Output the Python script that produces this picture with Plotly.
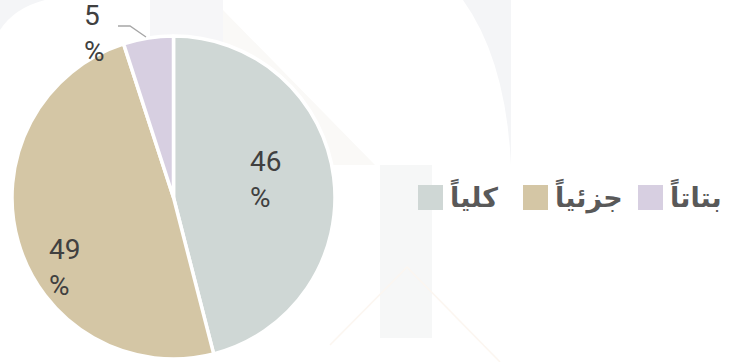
import plotly.graph_objects as go

# Survey answer shares (percent)
labels = ["كلياً", "جزئياً", "بتاتاً"]
values = [46, 49, 5]
colors = ["#cfd7d5", "#d4c6a5", "#d7cfe1"]

W, H = 734, 362


def px(x, y):
    """Pixel position -> paper coordinates (figure has no margins)."""
    return x / W, 1 - y / H


def path(points, close=True):
    parts = []
    for i, (x, y) in enumerate(points):
        u, v = px(x, y)
        parts.append(("M" if i == 0 else "L") + f"{u:.5f},{v:.5f}")
    return " ".join(parts) + (" Z" if close else "")


fig = go.Figure()

x0, y0 = px(12, 36)
x1, y1 = px(335, 359)
fig.add_trace(go.Pie(
    labels=labels,
    values=values,
    sort=False,
    direction="clockwise",
    rotation=0,
    marker=dict(colors=colors, line=dict(color="white", width=3.5)),
    textinfo="none",
    domain=dict(x=[x0, x1], y=[y1, y0]),
    showlegend=False,
    hoverinfo="label+value",
))

shapes = []
# faint watermark behind the chart
bg_grey = "#f4f5f7"
cu, cv = px(463, 0)
q1u, q1v = px(506, 60)
eu, ev = px(511, 165)
tu, tv = px(511, 0)
shapes.append(dict(type="path", xref="paper", yref="paper", layer="below",
                   path=f"M{cu},{cv} Q{q1u},{q1v} {eu},{ev} L{tu},{tv} Z",
                   fillcolor=bg_grey, line=dict(width=0)))
a0u, a0v = px(0, 30)
a1u, a1v = px(14, 8)
a2u, a2v = px(45, 0)
o0u, o0v = px(0, 0)
shapes.append(dict(type="path", xref="paper", yref="paper", layer="below",
                   path=f"M{a0u},{a0v} Q{a1u},{a1v} {a2u},{a2v} L{o0u},{o0v} Z",
                   fillcolor=bg_grey, line=dict(width=0)))
shapes.append(dict(type="path", xref="paper", yref="paper", layer="below",
                   path=path([(150, 0), (223, 0), (223, 45), (150, 45)]),
                   fillcolor="#f6f6f8", line=dict(width=0)))
shapes.append(dict(type="path", xref="paper", yref="paper", layer="below",
                   path=path([(223, 10), (375, 165), (223, 165)]),
                   fillcolor="#faf9f7", line=dict(width=0)))
shapes.append(dict(type="path", xref="paper", yref="paper", layer="below",
                   path=path([(380, 165), (432, 165), (432, 338), (380, 338)]),
                   fillcolor="#f6f7f7", line=dict(width=0)))
shapes.append(dict(type="path", xref="paper", yref="paper", layer="below",
                   path=path([(330, 345), (407, 267), (500, 362)], close=False),
                   fillcolor="rgba(0,0,0,0)", line=dict(color="#fcf6f0", width=1.5)))

# leader line for the small slice label
shapes.append(dict(type="path", xref="paper", yref="paper",
                   path=path([(118, 26), (130, 26), (146, 37)], close=False),
                   fillcolor="rgba(0,0,0,0)", line=dict(color="#a6a6a6", width=1.3)))

# slice value labels
label_font = dict(family="Roboto", size=28, color="#404040")
label_anchor = [(248, 179), (47, 267), (82, 34)]
annotations = []
for val, (lx, ly) in zip(values, label_anchor):
    u, v = px(lx, ly)
    annotations.append(dict(xref="paper", yref="paper", x=u, y=v,
                            xanchor="left", yanchor="middle", showarrow=False,
                            text=f"{val}<br>%", align="left", font=label_font))

# legend: colour square followed by its label
legend_x = [418, 523, 638]
sq = 25
yc = 197.5
for lab, col, lx in zip(labels, colors, legend_x):
    su0, sv0 = px(lx, yc - sq / 2)
    su1, sv1 = px(lx + sq, yc + sq / 2)
    shapes.append(dict(type="rect", xref="paper", yref="paper",
                       x0=su0, x1=su1, y0=sv1, y1=sv0,
                       fillcolor=col, line=dict(width=0)))
    tu_, tv_ = px(lx + sq + 5, yc - 2)
    annotations.append(dict(xref="paper", yref="paper", x=tu_, y=tv_,
                            xanchor="left", yanchor="middle", showarrow=False,
                            text=lab,
                            font=dict(family="DejaVu Sans", size=27,
                                      color="#595959", weight="bold")))

fig.update_layout(
    width=W, height=H,
    margin=dict(l=0, r=0, t=0, b=0),
    paper_bgcolor="white",
    plot_bgcolor="white",
    shapes=shapes,
    annotations=annotations,
)

fig.write_html("out.html")
